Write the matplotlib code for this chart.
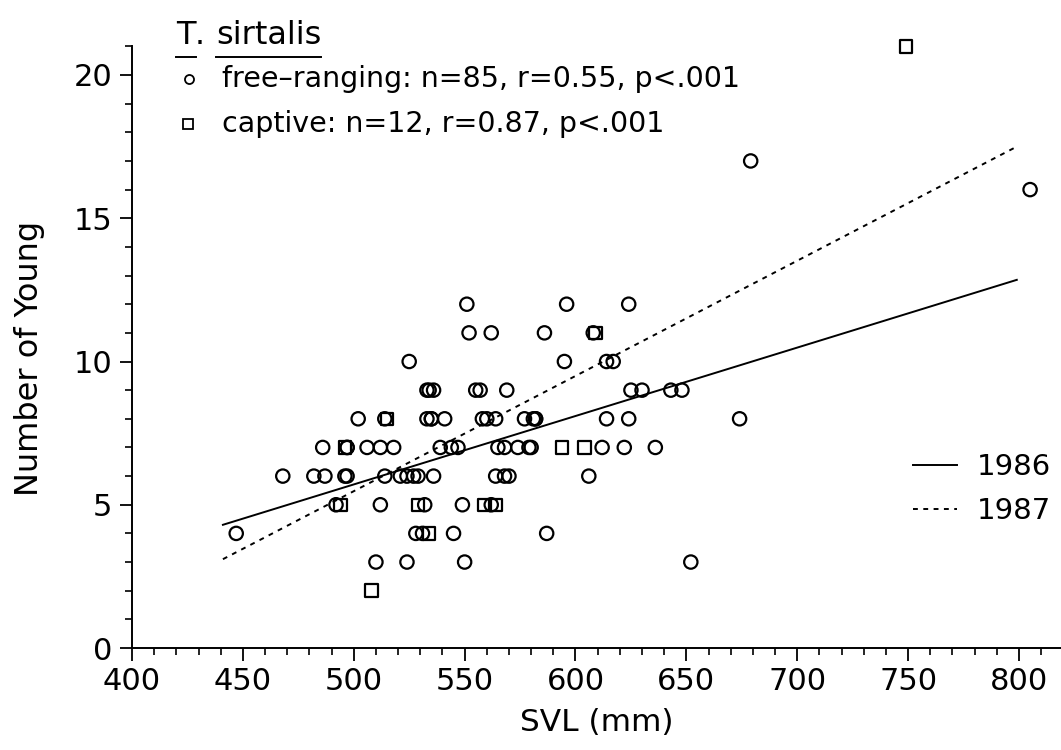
import matplotlib
matplotlib.use('Agg')
import matplotlib.pyplot as plt
from matplotlib.ticker import MultipleLocator
from matplotlib.lines import Line2D

# ---- data ----
free_svl = [510, 524, 550, 652,
            447, 528, 531, 545, 587,
            492, 512, 532, 549, 562,
            468, 482, 487, 496, 497, 514, 521, 524, 527, 529, 536, 564, 568, 570, 606,
            486, 497, 497, 506, 512, 518, 539, 544, 547, 565, 568, 574, 579, 580, 612, 622, 636,
            502, 514, 533, 535, 535, 541, 558, 560, 564, 577, 581, 582, 582, 614, 624, 674,
            533, 534, 536, 555, 557, 569, 625, 630, 643, 648,
            525, 595, 614, 617,
            552, 562, 586, 608,
            551, 596, 624,
            805,
            679]
free_young = [3] * 4 + [4] * 5 + [5] * 5 + [6] * 15 + [7] * 17 + [8] * 16 + \
             [9] * 10 + [10] * 4 + [11] * 4 + [12] * 3 + [16] + [17]

captive_svl = [508, 534, 494, 529, 559, 564, 496, 594, 604, 515, 609, 749]
captive_young = [2, 4, 5, 5, 5, 5, 7, 7, 7, 8, 11, 21]

line_x = [441, 799]
line_1986 = [4.3, 12.85]
line_1987 = [3.1, 17.5]

title_parts = ["T", "sirtalis"]
free_label = "free\u2013ranging: n=85, r=0.55, p<.001"
captive_label = "captive: n=12, r=0.87, p<.001"
year_labels = ["1986", "1987"]
x_ticks = list(range(400, 801, 50))
y_ticks = [0, 5, 10, 15, 20]

W, H = 1061, 750
plt.rcParams['font.family'] = ['DejaVu Sans']
fig = plt.figure(figsize=(W / 100, H / 100), dpi=100)
ax = fig.add_axes([132 / W, 102 / H, (W - 132) / W, 21 * 28.65 / H])

ax.scatter(free_svl, free_young, s=92, marker='o', facecolors='none',
           edgecolors='black', linewidths=1.6, clip_on=False, zorder=3)
ax.scatter(captive_svl, captive_young, s=80, marker='s', facecolors='none',
           edgecolors='black', linewidths=1.6, clip_on=False, zorder=3)
l86, = ax.plot(line_x, line_1986, color='black', lw=1.4, ls='-')
l87, = ax.plot(line_x, line_1987, color='black', lw=1.4, ls=(0, (2.5, 2.8)))

ax.set_xlim(400, 400 + (W - 132) / 2.2175)
ax.set_ylim(0, 21)
ax.set_xticks(x_ticks)
ax.set_yticks(y_ticks)
ax.xaxis.set_minor_locator(MultipleLocator(10))
ax.yaxis.set_minor_locator(MultipleLocator(1))
ax.tick_params(which='major', direction='out', length=9, width=1.3, labelsize=22, pad=5)
ax.tick_params(which='minor', direction='out', length=5, width=1.2)
for s in ['top', 'right']:
    ax.spines[s].set_visible(False)
for s in ['left', 'bottom']:
    ax.spines[s].set_linewidth(1.4)

ax.set_xlabel("SVL (mm)", fontsize=22.5, labelpad=8)
ax.set_ylabel("Number of Young", fontsize=23)
ax.yaxis.set_label_coords(-0.094, 0.482)

# legend for regression lines (lower right)
ax.legend([l86, l87], year_labels, loc='center left',
          bbox_to_anchor=(913 / W, 1 - 489 / H), bbox_transform=fig.transFigure,
          frameon=False, fontsize=21, handlelength=1.5, handletextpad=0.7,
          labelspacing=0.55, borderpad=0, borderaxespad=0)

# top-left key
def fx(px):
    return px / W

def fy(py):
    return 1 - py / H

t1 = fig.text(fx(176), fy(36), title_parts[0], fontsize=23, va='center', ha='left')
t2 = fig.text(fx(195), fy(36), ".", fontsize=23, va='center', ha='left')
t3 = fig.text(fx(216), fy(36), title_parts[1], fontsize=23, va='center', ha='left')
fig.add_artist(Line2D([fx(189)], [fy(79)], marker='o', ms=6.5, mfc='none', mec='black',
                      mew=1.3, ls='none'))
fig.add_artist(Line2D([fx(188)], [fy(124)], marker='s', ms=6.5, mfc='none', mec='black',
                      mew=1.3, ls='none'))
fig.text(fx(222), fy(79), free_label, fontsize=20.5, va='center', ha='left')
fig.text(fx(222), fy(124), captive_label, fontsize=20.5, va='center', ha='left')

fig.canvas.draw()
r = fig.canvas.get_renderer()
for t in (t1, t3):
    bb = t.get_window_extent(r)
    fig.add_artist(Line2D([bb.x0 / W, bb.x1 / W], [fy(57), fy(57)], color='black', lw=1.4))

fig.savefig("out.png", dpi=100)
